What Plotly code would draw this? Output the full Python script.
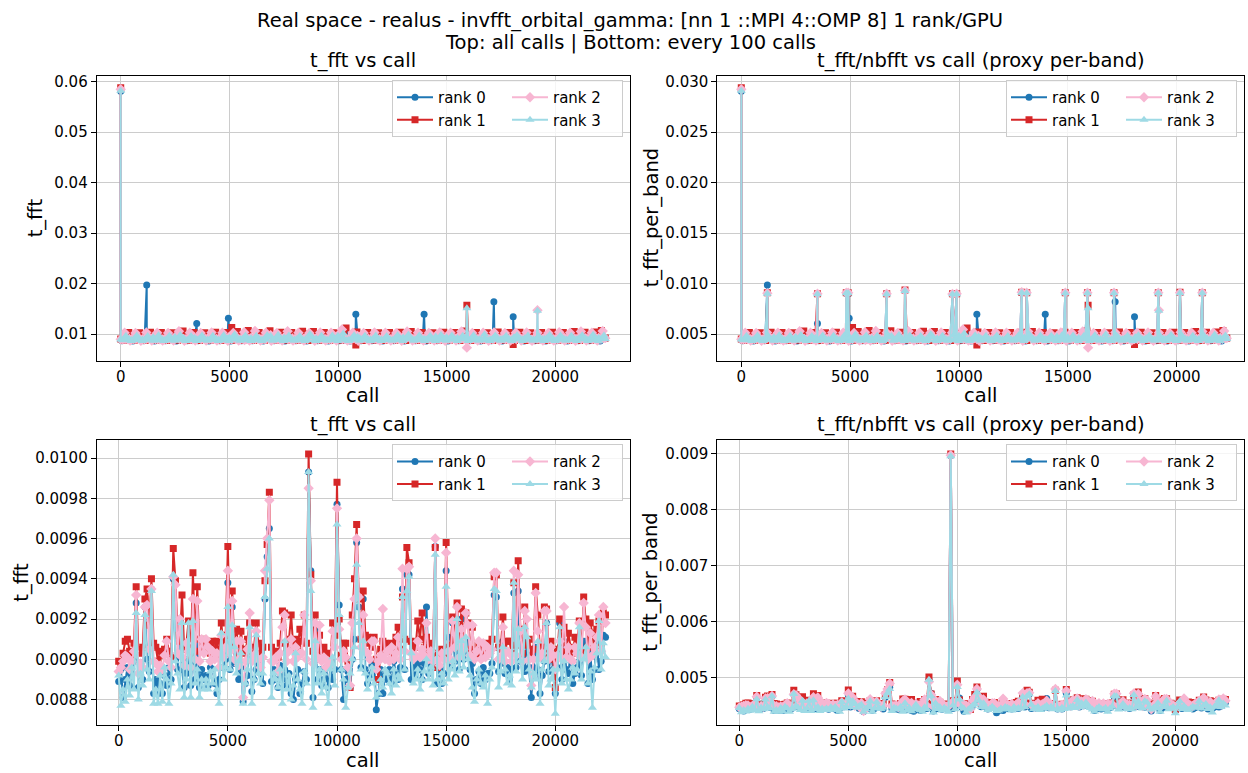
import numpy as np
import plotly.graph_objects as go

FONT = "DejaVu Sans"
W, H = 1248, 773

# ---------------- data ----------------
# bottom row: every 100th call
SAMPLE_STEP = 100
sample_calls = np.arange(0, 22301, SAMPLE_STEP)
one_band_sample_calls = [9700]          # calls in the sample where nbfft == 1

# t_fft of the sampled calls, in microseconds
t_fft_sample_r0_us = [
    8890, 8950, 8810, 8900, 8960, 8870, 8930, 8990, 9280, 8860,
    8950, 8900, 9260, 9000, 8940, 9350, 8830, 8900, 8830, 8880,
    8830, 8920, 8870, 8960, 8900, 9400, 9010, 8950, 9200, 8950,
    8860, 8930, 9000, 8870, 9050, 8900, 9100, 8860, 8950, 8900,
    8920, 8870, 8960, 8950, 8880, 8830, 8900, 9090, 8960, 9000,
    9380, 8950, 9260, 8980, 9030, 8900, 8960, 8790, 8880, 8920,
    9180, 8840, 8900, 8950, 8980, 8930, 8880, 9300, 9510, 9650,
    8890, 8950, 8900, 8860, 8970, 8900, 8950, 8870, 8930, 8830,
    8800, 8900, 8950, 8830, 8880, 8940, 8900, 9930, 9440, 8810,
    9150, 8900, 8950, 8870, 8900, 8960, 8860, 8960, 8900, 8950,
    9770, 9270, 8950, 8800, 8900, 8940, 8860, 9000, 9100, 9580,
    9260, 8960, 9300, 8950, 8880, 8920, 8970, 8990, 8750, 8830,
    8950, 8830, 8920, 8900, 8950, 8880, 8990, 8930, 8900, 8960,
    9350, 8950, 9420, 9420, 8900, 8960, 8920, 8980, 8950, 8900,
    8980, 9260, 8930, 8990, 8960, 9560, 8880, 8950, 8880, 8930,
    9440, 9110, 8960, 9180, 8990, 9060, 8950, 9200, 9000, 9040,
    9090, 8950, 8980, 8830, 8900, 8940, 8880, 8960, 8900, 8930,
    8930, 8980, 9320, 9310, 8940, 8980, 9090, 8930, 8960, 8900,
    8950, 9330, 8960, 9340, 8990, 9020, 8940, 9090, 8960, 8810,
    8960, 9060, 8950, 8830, 8920, 8990, 9180, 8940, 9030, 8950,
    8830, 8960, 9180, 8900, 9090, 8950, 8930, 9030, 8880, 8930,
    8960, 8990, 8920, 9090, 9090, 8880, 9030, 8900, 8950, 9090,
    8950, 8990, 9120, 9110,
]
t_fft_sample_r1_us = [
    8990, 8980, 9030, 9090, 9100, 9040, 9010, 9080, 9360, 9050,
    9030, 9060, 9300, 9350, 9170, 9400, 9080, 9060, 8990, 9040,
    9020, 9050, 9100, 9040, 9010, 9550, 9390, 9120, 9090, 9320,
    9050, 9080, 9190, 9020, 9430, 9100, 9360, 9040, 9100, 9060,
    9090, 9080, 9030, 9090, 9050, 9090, 9020, 9180, 9070, 9120,
    9560, 9120, 9340, 9060, 9150, 9010, 9140, 9050, 9030, 9100,
    9180, 9040, 9060, 9180, 9080, 9030, 9060, 9390, 9570, 9830,
    9060, 9030, 9040, 9010, 9080, 9240, 9230, 9050, 9100, 9220,
    9050, 9100, 9060, 9150, 9090, 9220, 9080, 10020, 9420, 9040,
    9220, 9060, 9120, 9040, 9060, 9010, 9030, 8990, 9180, 9120,
    9880, 9200, 9020, 9080, 9080, 8990, 8860, 9220, 9400, 9670,
    9300, 9100, 9340, 9120, 9110, 9080, 9060, 9110, 9000, 8900,
    9050, 9090, 9080, 9040, 9060, 9080, 9030, 9110, 9160, 9050,
    9310, 9100, 9555, 9480, 9090, 9040, 9060, 9190, 9100, 9230,
    9060, 9110, 9040, 9080, 9030, 9555, 8960, 9020, 9050, 9010,
    9580, 9060, 9070, 9210, 9100, 9280, 9060, 9250, 9100, 9230,
    9180, 9050, 9160, 9020, 9040, 9070, 9010, 9045, 9030, 9080,
    9060, 9100, 9410, 9420, 9060, 9050, 9210, 9040, 9090, 9090,
    9030, 9380, 9070, 9490, 9150, 9030, 9260, 9070, 9100, 9020,
    9050, 9360, 9220, 9040, 9060, 9260, 9250, 9030, 9090, 9000,
    8860, 9050, 9200, 9080, 9160, 9040, 9130, 9060, 9030, 9110,
    9060, 9190, 9040, 9310, 9200, 9060, 9180, 9130, 9040, 9150,
    9190, 9060, 9230, 9220,
]
t_fft_sample_r2_us = [
    8940, 8960, 8990, 9020, 9010, 8950, 8990, 9040, 9320, 8930,
    8980, 8960, 9260, 9270, 9050, 9350, 8990, 8980, 8940, 8970,
    8950, 9020, 9090, 8990, 8960, 9410, 9370, 9030, 9200, 9010,
    8970, 9080, 9040, 8960, 9300, 9000, 9290, 8990, 9100, 9030,
    9100, 9060, 8990, 9040, 9000, 9030, 8960, 9120, 9010, 9060,
    9440, 9040, 9290, 9000, 9090, 8970, 9090, 8810, 8990, 9050,
    9230, 8990, 9020, 9140, 9000, 8960, 9010, 9440, 9600, 9790,
    8990, 8990, 9010, 8940, 9030, 9160, 9220, 8990, 9040, 9100,
    8990, 9060, 9010, 9030, 9030, 9220, 9000, 9850, 9390, 8980,
    9180, 9010, 9170, 8990, 9010, 8960, 8990, 8970, 9140, 9060,
    9750, 9150, 9000, 9040, 9010, 8960, 8870, 9180, 9300, 9600,
    9310, 9060, 9220, 9040, 9030, 9000, 9090, 9090, 8950, 8990,
    9020, 9250, 9000, 9040, 8990, 9060, 9000, 9030, 9110, 9000,
    9450, 9040, 9450, 9460, 9030, 9000, 9020, 9090, 9010, 9050,
    9020, 9180, 9000, 9040, 8990, 9600, 9000, 8970, 9030, 9000,
    9530, 9040, 9000, 9190, 9060, 9260, 9010, 9150, 9050, 9230,
    9170, 9020, 9170, 9000, 9040, 9090, 9000, 9080, 9010, 9060,
    9030, 9050, 9430, 9430, 9000, 9010, 9160, 8990, 9040, 9030,
    8990, 9440, 9020, 9420, 9140, 8990, 9240, 9200, 9000, 8870,
    9000, 9330, 9140, 9010, 9030, 9240, 9240, 9000, 9060, 9020,
    8950, 9020, 9090, 9000, 9260, 9010, 9060, 9000, 8990, 9060,
    9030, 9180, 9010, 9280, 9160, 9000, 9130, 9020, 9060, 9110,
    9220, 9040, 9260, 9180,
]
t_fft_sample_r3_us = [
    8920, 8770, 8850, 8790, 8900, 8820, 8960, 8850, 9230, 8800,
    8930, 8870, 9220, 8950, 8900, 9340, 8780, 8850, 8780, 8920,
    8790, 8960, 8900, 8780, 8880, 9420, 8990, 8930, 8850, 9180,
    8810, 8900, 9180, 8810, 9190, 8880, 8950, 8810, 8900, 8850,
    8900, 8850, 8940, 8880, 8950, 8850, 8780, 9130, 8900, 8960,
    9260, 8950, 9170, 9060, 8930, 8990, 9030, 8780, 8880, 8950,
    9160, 8780, 8900, 9120, 8930, 8880, 8930, 9310, 9450, 9600,
    8810, 8930, 8900, 8860, 8950, 8780, 9090, 8850, 8920, 8800,
    8870, 9030, 8900, 8850, 8780, 8940, 8880, 9930, 9340, 8760,
    9090, 8880, 8950, 8830, 8930, 8860, 8780, 8950, 9010, 8870,
    9670, 9220, 8950, 8900, 8760, 8860, 8930, 9000, 9060, 9470,
    9180, 8950, 9090, 8930, 8850, 8900, 8960, 8880, 8810, 8830,
    8900, 8860, 8950, 8930, 8880, 8830, 8950, 8870, 8920, 8900,
    9310, 8950, 9340, 9410, 9030, 8880, 8900, 8950, 8850, 8900,
    8940, 9000, 8900, 8960, 8870, 9520, 8900, 8850, 8930, 8880,
    9360, 8900, 8950, 8990, 8920, 9200, 8940, 9090, 8960, 9110,
    9000, 8920, 8860, 8790, 8900, 8950, 8880, 8860, 8920, 8780,
    8900, 8960, 9350, 9340, 8860, 8940, 9060, 8950, 8880, 8920,
    8870, 9380, 8940, 9150, 8990, 8900, 9160, 9110, 8950, 8860,
    8930, 8900, 9090, 8780, 8950, 8990, 9180, 8870, 8900, 8950,
    8730, 8950, 9160, 8880, 8990, 8900, 8850, 8900, 8960, 8930,
    8950, 9160, 8900, 9000, 9060, 8880, 8940, 8760, 8960, 9030,
    9190, 8950, 9080, 9010,
]

# top row: non-sampled calls that stand out (spikes / single-band calls)
extra_calls = [0, 1197, 3499, 4823, 4911, 4955, 5110, 6679, 7519, 9893, 10820,
               12880, 13110, 13962, 14883, 15900, 15930, 17120, 17173, 18062,
               19155, 19180, 20151, 21175]
extra_t_fft_r0_us = [58100, 19700, 12100, 9050, 9000, 13100, 9000, 9000, 9300, 9000, 13900,
                     9100, 9100, 13900, 9100, 9100, 9000, 9100, 16400, 13400,
                     9100, 9000, 9100, 9100]
extra_t_fft_r1_us = [58800, 9100, 9000, 9100, 9100, 9050, 11300, 9000, 9350, 9000, 7800,
                     9150, 9100, 9050, 9100, 9100, 15700, 9100, 9050, 7900,
                     9100, 9100, 9150, 9100]
extra_t_fft_r2_us = [58500, 9050, 9000, 9100, 9100, 9000, 9000, 9000, 9300, 9000, 9000,
                     9150, 9100, 9000, 9100, 9100, 7300, 9100, 9000, 9000,
                     9100, 14700, 9100, 9100]
extra_t_fft_r3_us = [58200, 9000, 8950, 9050, 9050, 8950, 8950, 8950, 9250, 8950, 8900,
                     9100, 9050, 8950, 9050, 9050, 15100, 9050, 8950, 8950,
                     9050, 14600, 9050, 9050]
extra_nbfft_r0 = [2, 2, 2, 1, 1, 2, 2, 1, 1, 1, 2, 1, 1, 2, 1, 1, 2, 1, 2, 2, 1, 2, 1, 1]
extra_nbfft_r1 = [2, 1, 1, 1, 1, 2, 2, 1, 1, 1, 2, 1, 1, 2, 1, 1, 2, 1, 2, 2, 1, 2, 1, 1]
extra_nbfft_r2 = [2, 1, 1, 1, 1, 2, 2, 1, 1, 1, 2, 1, 1, 2, 1, 1, 2, 1, 2, 2, 1, 2, 1, 1]
extra_nbfft_r3 = [2, 1, 1, 1, 1, 2, 2, 1, 1, 1, 2, 1, 1, 2, 1, 1, 2, 1, 2, 2, 1, 2, 1, 1]

# top row: non-sampled calls at the edges of the all-calls band (nbfft = 2), microseconds
band_calls_r0 = np.arange(60, 22300, 250)
band_calls_r1 = np.arange(120, 22300, 250)
band_calls_r2 = np.arange(180, 22300, 250)
band_calls_r3 = np.arange(240, 22300, 250)
band_t_fft_r0_us = [
    8650, 9800, 8620, 9750, 8680, 9850, 8640, 9800, 8660, 9750,
    8620, 9900, 8650, 9800, 8670, 9750, 8630, 9850, 8660, 9800,
    8600, 9900, 8650, 9950, 8680, 9800, 8640, 9750, 8650, 9800,
    8620, 9850, 8670, 9750, 8640, 9800, 8660, 9750, 8620, 9850,
    8650, 10200, 8600, 9800, 8650, 9750, 8680, 9800, 8640, 9750,
    8650, 9850, 8620, 9900, 8670, 9800, 8640, 9750, 8660, 9850,
    8620, 9800, 8650, 9950, 8680, 9800, 8640, 9750, 8650, 9900,
    8620, 9800, 8670, 9850, 8640, 9750, 8660, 9800, 8620, 9850,
    8650, 9800, 8600, 9900, 8650, 9800, 8680, 9850, 8640,
]
band_t_fft_r1_us = [
    8740, 10300, 8760, 10250, 8720, 10350, 8750, 10300, 8730, 10250,
    8760, 10600, 8740, 10300, 8720, 10250, 8750, 10350, 8730, 10300,
    8760, 10500, 8740, 10700, 8720, 10300, 8750, 10650, 8730, 10350,
    8760, 10300, 8740, 10550, 8720, 10500, 8750, 10300, 8730, 10250,
    8760, 11200, 8740, 10400, 8720, 10300, 8750, 10250, 8730, 10300,
    8760, 10350, 8740, 10500, 8720, 10300, 8750, 10250, 8730, 10350,
    8760, 10300, 8740, 10600, 8720, 10300, 8750, 10250, 8730, 10400,
    8760, 10300, 8740, 10350, 8720, 10250, 8750, 10300, 8730, 10350,
    8760, 10300, 8740, 10500, 8720, 10350, 8750, 10400, 10700,
]
band_t_fft_r2_us = [
    10250, 8700, 10200, 8680, 10300, 8710, 10250, 8690, 10200, 8700,
    10550, 8680, 10250, 8700, 10200, 8690, 10300, 8710, 10250, 8680,
    10200, 8700, 10350, 8690, 10600, 8710, 10250, 8680, 10200, 8700,
    10550, 8690, 10250, 8710, 10200, 8680, 10300, 8700, 10250, 8690,
    10900, 8710, 10250, 8680, 10200, 8700, 10300, 8690, 10250, 8710,
    10200, 8680, 10500, 8700, 10250, 8690, 10200, 8710, 10300, 8680,
    10250, 8700, 10500, 8690, 10200, 8710, 10250, 8680, 10300, 8700,
    10200, 8690, 10250, 8710, 10300, 8680, 10250, 8700, 10200, 8690,
    10350, 8710, 10250, 8680, 10500, 8700, 10250, 8690, 10600,
]
band_t_fft_r3_us = [
    9650, 8640, 9700, 8620, 9600, 8660, 9750, 8630, 9650, 8650,
    9800, 8620, 9600, 8640, 9700, 8660, 9650, 8630, 9750, 8620,
    9900, 8650, 9700, 8640, 9650, 8620, 9750, 8660, 9800, 8630,
    9700, 8650, 9600, 8620, 9750, 8640, 9650, 8660, 9700, 8630,
    10100, 8620, 9750, 8650, 9650, 8640, 9700, 8620, 9600, 8660,
    9750, 8630, 9850, 8650, 9700, 8620, 9650, 8640, 9800, 8660,
    9700, 8630, 9650, 8620, 9750, 8650, 9900, 8640, 9700, 8660,
    9650, 8620, 9750, 8630, 9700, 8650, 9600, 8640, 9800, 8620,
    9700, 8660, 9650, 8630, 9750, 8640, 9850, 8620, 9700,
]

rank_names = ["rank 0", "rank 1", "rank 2", "rank 3"]
rank_colors = ["#1f77b4", "#d62728", "#f7b6d2", "#9edae5"]
rank_symbols = ["circle", "square", "diamond", "triangle-up"]
rank_sizes = [7, 7, 8, 8]

title_line1 = "Real space - realus - invfft_orbital_gamma: [nn 1 ::MPI 4::OMP 8] 1 rank/GPU"
title_line2 = "Top: all calls | Bottom: every 100 calls"
panel_titles = ["t_fft vs call", "t_fft/nbfft vs call (proxy per-band)",
                "t_fft vs call", "t_fft/nbfft vs call (proxy per-band)"]
y_titles = ["t_fft", "t_fft_per_band", "t_fft", "t_fft_per_band"]

# ---------------- build series ----------------
samples = [t_fft_sample_r0_us, t_fft_sample_r1_us, t_fft_sample_r2_us, t_fft_sample_r3_us]
extras_t = [extra_t_fft_r0_us, extra_t_fft_r1_us, extra_t_fft_r2_us, extra_t_fft_r3_us]
extras_nb = [extra_nbfft_r0, extra_nbfft_r1, extra_nbfft_r2, extra_nbfft_r3]
band_calls = [band_calls_r0, band_calls_r1, band_calls_r2, band_calls_r3]
band_t = [band_t_fft_r0_us, band_t_fft_r1_us, band_t_fft_r2_us, band_t_fft_r3_us]
nb_sample = np.where(np.isin(sample_calls, one_band_sample_calls), 1, 2)


def px_x(p):
    return p / W


def px_y(p):
    return 1 - p / H


cols = [(96.7, 630.0), (717.3, 1244.0)]
rows = [(73.3, 359.0), (439.0, 725.0)]

fig = go.Figure()
panels = [(0, 0, ""), (0, 1, "2"), (1, 0, "3"), (1, 1, "4")]

for pi, (r, c, sfx) in enumerate(panels):
    for k in range(4):
        t_s = np.array(samples[k], dtype=float)
        if r == 0:
            x_all = np.concatenate([np.array(extra_calls), band_calls[k], sample_calls])
            t_all = np.concatenate([np.array(extras_t[k], dtype=float),
                                    np.array(band_t[k], dtype=float), t_s])
            nb_all = np.concatenate([np.array(extras_nb[k]),
                                     np.full(len(band_calls[k]), 2), nb_sample])
            order = np.argsort(x_all, kind="stable")
            x_all, t_all, nb_all = x_all[order], t_all[order], nb_all[order]
        else:
            x_all, t_all, nb_all = sample_calls, t_s, nb_sample
        y = t_all * 1e-6 if c == 0 else t_all / nb_all * 1e-6
        fig.add_trace(go.Scatter(
            x=x_all, y=y, mode="lines+markers", name=rank_names[k],
            line=dict(color=rank_colors[k], width=2),
            marker=dict(symbol=rank_symbols[k], size=rank_sizes[k], color=rank_colors[k],
                        line=dict(width=0)),
            xaxis="x" + sfx, yaxis="y" + sfx, legend="legend" + sfx,
            legendgroup=f"g{pi}{'a' if k < 2 else 'b'}",
            showlegend=True, hoverinfo="skip",
        ))

axis_base = dict(showline=True, linecolor="black", linewidth=1, mirror=True,
                 ticks="outside", ticklen=5, tickwidth=1, tickcolor="black",
                 showgrid=True, gridcolor="#cccccc", gridwidth=1, zeroline=False,
                 tickfont=dict(size=15, color="black", family=FONT), autorange=False)

x_ranges = [[-1105, 23438], [-1102, 23091], [-1008, 23422], [-1009, 23151]]
y_ranges = [[0.004730, 0.061125], [0.002365, 0.030563],
            [0.008673, 0.010088], [0.004152, 0.009236]]
y_ticks = [dict(dtick=0.01, tick0=0, tickformat=".2f"),
           dict(dtick=0.005, tick0=0, tickformat=".3f"),
           dict(dtick=0.0002, tick0=0, tickformat=".4f"),
           dict(dtick=0.001, tick0=0, tickformat=".3f")]

layout = dict(width=W, height=H, margin=dict(l=0, r=0, t=0, b=0),
              paper_bgcolor="white", plot_bgcolor="white",
              font=dict(family=FONT, color="black"), showlegend=True)

text_font = dict(size=19.5, family=FONT, color="black")
annotations = []
for pi, (r, c, sfx) in enumerate(panels):
    x0, x1 = cols[c]
    y0, y1 = rows[r]
    layout["xaxis" + sfx] = dict(axis_base, domain=[px_x(x0), px_x(x1)], range=x_ranges[pi],
                                 anchor="y" + sfx, dtick=5000, tick0=0, tickformat="d",
                                 ticklabelstandoff=-3)
    layout["yaxis" + sfx] = dict(axis_base, domain=[px_y(y1), px_y(y0)], range=y_ranges[pi],
                                 anchor="x" + sfx, **y_ticks[pi])
    layout["legend" + sfx] = dict(
        x=px_x(x1 - 7), y=px_y(y0 + 4), xanchor="right", yanchor="top",
        orientation="h", traceorder="grouped", bgcolor="rgba(255,255,255,0.8)",
        bordercolor="#cccccc", borderwidth=1, tracegroupgap=0,
        itemwidth=36, entrywidth=64, entrywidthmode="pixels",
        font=dict(size=15, color="black", family=FONT))
    cx = (x0 + x1) / 2
    annotations.append(dict(text=panel_titles[pi], x=px_x(cx), y=px_y(y0 - 16),
                            xref="paper", yref="paper", xanchor="center", yanchor="middle",
                            showarrow=False, font=text_font))
    annotations.append(dict(text="call", x=px_x(cx), y=px_y(y1 + 35),
                            xref="paper", yref="paper", xanchor="center", yanchor="middle",
                            showarrow=False, font=text_font, borderpad=0))
ylab_x = [35, 651, 22, 651]
for pi, (r, c, sfx) in enumerate(panels):
    y0, y1 = rows[r]
    annotations.append(dict(text=y_titles[pi], x=px_x(ylab_x[pi]), y=px_y((y0 + y1) / 2),
                            xref="paper", yref="paper", xanchor="center", yanchor="middle",
                            textangle=-90, showarrow=False, font=text_font))
annotations.append(dict(text=title_line1, x=px_x(630), y=px_y(18), xref="paper", yref="paper",
                        xanchor="center", yanchor="middle", showarrow=False, font=text_font))
annotations.append(dict(text=title_line2, x=px_x(630), y=px_y(40), xref="paper", yref="paper",
                        xanchor="center", yanchor="middle", showarrow=False, font=text_font))
layout["annotations"] = annotations

fig.update_layout(**layout)
fig.write_html("out.html")
